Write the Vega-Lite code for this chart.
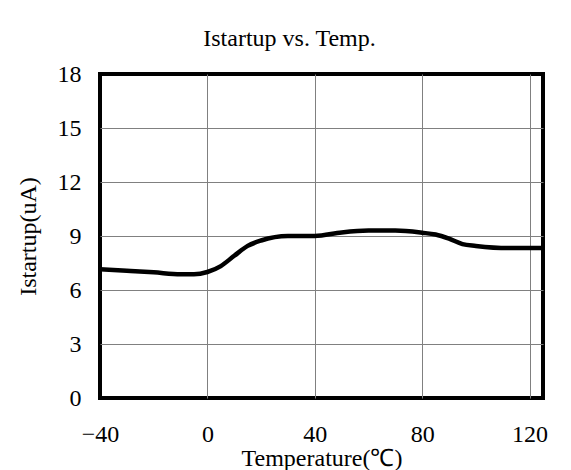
{
  "$schema": "https://vega.github.io/schema/vega-lite/v6.json",
  "width": 443,
  "height": 324,
  "autosize": "none",
  "padding": {"left": 100, "top": 74, "right": 28, "bottom": 72},
  "background": "white",
  "title": {
    "text": "Istartup vs. Temp.",
    "font": "Liberation Serif",
    "fontSize": 24,
    "fontWeight": "normal",
    "color": "black",
    "offset": 11,
    "dx": -32
  },
  "config": {
    "view": {"stroke": "black", "strokeWidth": 4},
    "axis": {
      "labelFont": "Liberation Serif",
      "titleFont": "Liberation Serif",
      "labelFontSize": 24,
      "titleFontSize": 24,
      "labelFontWeight": "normal",
      "titleFontWeight": "normal",
      "labelColor": "black",
      "titleColor": "black",
      "gridColor": "#808080",
      "gridWidth": 1,
      "domain": false,
      "ticks": false
    }
  },
  "data": {
    "values": [
      {"t": -40, "i": 7.15},
      {"t": -30, "i": 7.07},
      {"t": -20, "i": 6.98},
      {"t": -10, "i": 6.87},
      {"t": -5, "i": 6.87},
      {"t": 0, "i": 7.0},
      {"t": 5, "i": 7.33},
      {"t": 10, "i": 7.9},
      {"t": 15, "i": 8.45},
      {"t": 20, "i": 8.75},
      {"t": 30, "i": 9.0},
      {"t": 40, "i": 9.0},
      {"t": 50, "i": 9.2},
      {"t": 60, "i": 9.3},
      {"t": 70, "i": 9.3},
      {"t": 80, "i": 9.18},
      {"t": 85, "i": 9.08},
      {"t": 90, "i": 8.85},
      {"t": 95, "i": 8.55},
      {"t": 100, "i": 8.45},
      {"t": 112, "i": 8.33},
      {"t": 125, "i": 8.33}
    ]
  },
  "mark": {"type": "line", "color": "black", "strokeWidth": 4.5, "interpolate": "monotone", "clip": true},
  "encoding": {
    "x": {
      "field": "t",
      "type": "quantitative",
      "scale": {"domain": [-40, 125], "nice": false, "zero": false},
      "axis": {
        "values": [-40, 0, 40, 80, 120],
        "title": "Temperature(℃)",
        "labelPadding": 24,
        "titlePadding": 0,
        "labelFlush": false,
        "gridOpacity": {"condition": {"test": "datum.value == -40", "value": 0}, "value": 1}
      }
    },
    "y": {
      "field": "i",
      "type": "quantitative",
      "scale": {"domain": [0, 18], "nice": false},
      "axis": {
        "values": [0, 3, 6, 9, 12, 15, 18],
        "title": "Istartup(uA)",
        "labelPadding": 19,
        "titlePadding": 17,
        "labelFlush": false,
        "gridOpacity": {"condition": {"test": "datum.value == 0 || datum.value == 18", "value": 0}, "value": 1}
      }
    }
  }
}
